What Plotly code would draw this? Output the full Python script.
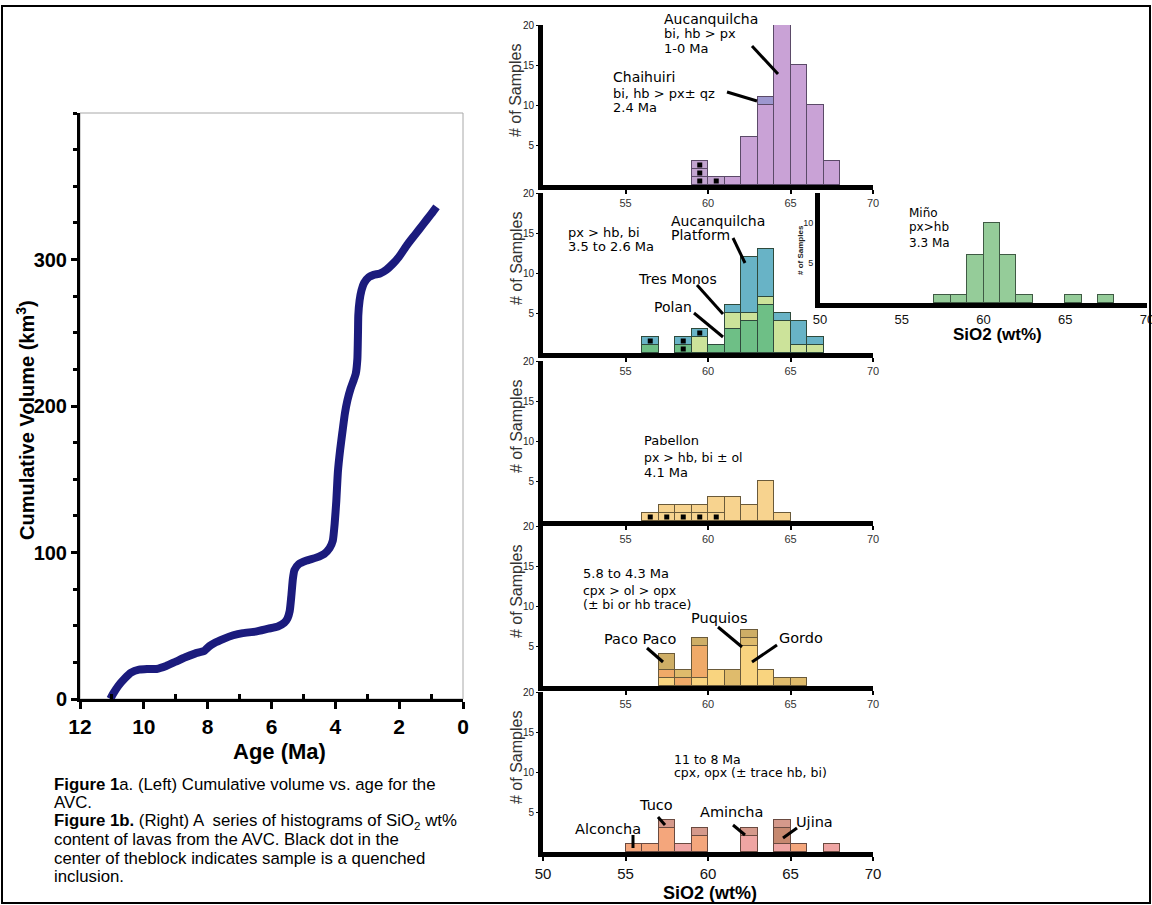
import plotly.graph_objects as go

W, H = 1152, 905

# ---------------- Figure 1a data: cumulative volume vs age ----------------
age_ma = [11.05, 10.95, 10.8, 10.6, 10.4, 10.15, 9.9, 9.6, 9.3, 9.0, 8.7, 8.4, 8.1,
          7.95, 7.8, 7.5, 7.2, 6.9, 6.5, 6.1, 5.8, 5.6, 5.5, 5.43, 5.38, 5.33, 5.28,
          5.15, 4.9, 4.6, 4.35, 4.18, 4.08, 4.02, 3.97, 3.92, 3.85, 3.78, 3.7, 3.62,
          3.52, 3.42, 3.36, 3.31, 3.29, 3.28, 3.24, 3.18, 3.1, 2.95, 2.8, 2.6, 2.4,
          2.2, 2.0, 1.75, 1.5, 1.25, 1.0, 0.83]
cum_volume = [0, 4, 9, 14, 18, 20, 20.5, 20.5, 22.5, 25.5, 28.5, 31, 33,
              36, 38, 41, 43.5, 45, 46, 48, 49.5, 52, 55, 60, 70, 82, 88,
              92, 94.5, 96.5, 99, 103, 108, 120, 135, 155, 170, 182, 195, 204,
              212, 218, 222, 232, 250, 262, 272, 279, 284, 288, 289.5, 290.5, 293,
              297, 302, 310, 317, 324, 331, 336]
age_ticks = [12, 10, 8, 6, 4, 2, 0]
vol_ticks = [0, 100, 200, 300]

# ---------------- Figure 1b data: SiO2 histograms (bin left edges, counts) ----------------
sio2_ticks = [50, 55, 60, 65, 70]
count_ticks = [5, 10, 15, 20]

p1_bins = [59, 60, 61, 62, 63, 64, 65, 66, 67]
p1_inclusions = [3, 1, 0, 0, 0, 0, 0, 0, 0]
p1_aucanquilcha = [0, 0, 1, 6, 10, 20, 15, 10, 3]
p1_chaihuiri = [0, 0, 0, 0, 1, 0, 0, 0, 0]

p2_bins = [56, 57, 58, 59, 60, 61, 62, 63, 64, 65, 66]
p2_polan = [1, 0, 0, 0, 1, 3, 4, 6, 0, 0, 0]
p2_polan_incl = [0, 0, 1, 0, 0, 0, 0, 0, 0, 0, 0]
p2_tres_monos = [0, 0, 0, 2, 0, 2, 1, 1, 4, 1, 1]
p2_platform = [0, 0, 0, 0, 0, 1, 7, 6, 1, 3, 1]
p2_platform_incl = [1, 0, 1, 1, 0, 0, 0, 0, 0, 0, 0]

mino_bins = [57, 58, 59, 60, 61, 62, 63, 64, 65, 66, 67]
mino_counts = [1, 1, 6, 10, 6, 1, 0, 0, 1, 0, 1]

p3_bins = [56, 57, 58, 59, 60, 61, 62, 63, 64]
p3_inclusions = [1, 1, 1, 1, 1, 0, 0, 0, 0]
p3_pabellon = [0, 1, 1, 1, 2, 3, 2, 5, 1]

p4_bins = [57, 58, 59, 60, 61, 62, 63, 64, 65]
p4_gordo = [1, 0, 1, 2, 0, 5, 2, 0, 0]
p4_other = [1, 1, 4, 0, 0, 0, 0, 0, 0]
p4_puquios = [0, 1, 0, 0, 2, 1, 0, 1, 1]
p4_paco_paco = [2, 0, 1, 0, 0, 1, 0, 0, 0]

p5_bins = [55, 56, 57, 58, 59, 60, 61, 62, 63, 64, 65, 66, 67]
p5_amincha = [0, 0, 0, 1, 0, 0, 0, 2, 0, 1, 0, 0, 1]
p5_tuco_alconcha = [1, 1, 3, 0, 2, 0, 0, 0, 0, 0, 1, 0, 0]
p5_ujina = [0, 0, 0, 0, 0, 0, 0, 0, 0, 2, 0, 0, 0]
p5_other = [0, 0, 1, 0, 1, 0, 0, 1, 0, 1, 0, 0, 0]


# ---------------- helpers ----------------
def fx(x):
    return x / W


def fy(y):
    return 1 - y / H


fig = go.Figure()
annotations = []
shapes = []


def text(s, x, y, size, bold=False, family="Arial", xanchor="left", color="black", angle=0):
    annotations.append(dict(
        text=f"<b>{s}</b>" if bold else s, x=fx(x), y=fy(y), xref="paper", yref="paper",
        xanchor=xanchor, yanchor="middle", showarrow=False, textangle=angle, borderpad=0,
        font=dict(size=size, family=family, color=color)))


def pointer(x0, y0, x1, y1):
    shapes.append(dict(type="line", xref="paper", yref="paper",
                       x0=fx(x0), y0=fy(y0), x1=fx(x1), y1=fy(y1),
                       line=dict(color="black", width=3)))


def add_stack(idx, bins, series, outline):
    xa, ya = f"x{idx}", f"y{idx}"
    base = [0] * len(bins)
    centers = [b + 0.5 for b in bins]
    for name, vals, color, dotted in series:
        layers = [vals] if not dotted else [
            [1 if v > k else 0 for v in vals] for k in range(max(vals))]
        for k, layer in enumerate(layers):
            fig.add_trace(go.Bar(
                x=centers, y=[v if v else None for v in layer], width=1, name=name,
                marker=dict(color=color, line=dict(color=outline, width=1)),
                xaxis=xa, yaxis=ya, showlegend=False))
            if dotted:
                dx = [c for c, v in zip(centers, layer) if v]
                dy = [b + k + 0.5 for b, v in zip(base, layer) if v]
                fig.add_trace(go.Scatter(
                    x=dx, y=dy, mode="markers", xaxis=xa, yaxis=ya, showlegend=False,
                    marker=dict(symbol="square", size=5, color="black")))
        base = [b + v for b, v in zip(base, vals)]


# ---------------- Figure 1a ----------------
fig.add_trace(go.Scatter(x=age_ma, y=cum_volume, mode="lines", xaxis="x1", yaxis="y1",
                         line=dict(color="#1b1b7d", width=8, shape="spline", smoothing=0.5),
                         showlegend=False))

layout_axes = {}
layout_axes["xaxis1"] = dict(
    domain=[fx(80), fx(463)], range=[12, 0], anchor="y1", showline=True, linecolor="black",
    linewidth=3, ticks="outside", ticklen=7, tickwidth=3, tickcolor="black", automargin=False,
    tickvals=age_ticks, showgrid=False, zeroline=False,
    tickfont=dict(family="Liberation Sans Narrow, Arial Narrow, Arial", size=21, color="black", weight="bold"),
    minor=dict(tickvals=[11, 9, 7, 5, 3, 1], ticks="inside", ticklen=5, tickwidth=3, tickcolor="black"))
layout_axes["yaxis1"] = dict(
    domain=[fy(699), fy(113)], range=[0, 400], anchor="x1", showline=True, linecolor="black",
    linewidth=3, ticks="outside", ticklen=6, tickwidth=3, tickcolor="black", automargin=False,
    tickvals=vol_ticks, showgrid=False, zeroline=False,
    tickfont=dict(family="Arial", size=20, color="black", weight="bold"),
    minor=dict(tickvals=list(range(25, 401, 25)), ticks="outside", ticklen=4, tickwidth=3, tickcolor="black"))

shapes.append(dict(type="rect", xref="paper", yref="paper", x0=fx(80), y0=fy(699), x1=fx(463), y1=fy(113),
                   line=dict(color="#a8a8a8", width=1), layer="below"))

text("Cumulative Volume (km<sup>3</sup>)", 26, 420, 20, bold=True, xanchor="center", angle=-90)
text("Age (Ma)", 279, 751, 22, bold=True, xanchor="center")

cap = 16.8
cap_y = [784, 802, 821, 839, 858, 876]
text("<b>Figure 1</b>a. (Left) Cumulative volume vs. age for the", 53, cap_y[0], cap)
text("AVC.", 53, cap_y[1], cap)
text("<b>Figure 1b.</b> (Right) A  series of histograms of SiO<sub>2</sub> wt%", 53, cap_y[2], cap)
text("content of lavas from the AVC. Black dot in the", 53, cap_y[3], cap)
text("center of theblock indicates sample is a quenched", 53, cap_y[4], cap)
text("inclusion.", 53, cap_y[5], cap)

# ---------------- Figure 1b: histogram panels ----------------
# (axis index, bottom px of y=0, top px of y=20)
panels = [(2, 185, 25), (3, 353, 193), (4, 521, 361), (5, 686, 526), (6, 852, 692)]
for idx, bottom, top in panels:
    last = idx == 6
    layout_axes[f"xaxis{idx}"] = dict(
        domain=[fx(543), fx(873)], range=[50, 70], anchor=f"y{idx}", showline=True,
        linecolor="black", linewidth=5, ticks="outside", ticklen=4, tickwidth=2,
        tickcolor="black", tickvals=sio2_ticks if last else sio2_ticks[1:],
        showgrid=False, zeroline=False, automargin=False,
        tickfont=dict(family="Arial", size=15 if last else 11, color="#111" if last else "#333"))
    layout_axes[f"yaxis{idx}"] = dict(
        domain=[fy(bottom), fy(top)], range=[0, 20], anchor=f"x{idx}", showline=True,
        linecolor="black", linewidth=5, ticks="outside", ticklen=2, tickwidth=1,
        tickcolor="black", tickvals=count_ticks, showgrid=False, zeroline=False, automargin=False,
        tickfont=dict(family="Arial", size=10, color="#222"))
    text("# of Samples", 516, (bottom + top) / 2 - 14, 16, xanchor="center", color="#333", angle=-90)

# Miño inset
layout_axes["xaxis7"] = dict(
    domain=[fx(820), fx(1147)], range=[50, 70], anchor="y7", showline=True, linecolor="black",
    linewidth=5, ticks="", tickvals=sio2_ticks, showgrid=False, zeroline=False, automargin=False,
    ticklabeloverflow="allow", tickfont=dict(family="Arial", size=13, color="#111"))
layout_axes["yaxis7"] = dict(
    domain=[fy(303), fy(193)], range=[0, 13.8], anchor="x7", showline=True, linecolor="black",
    linewidth=5, ticks="", tickvals=[5, 10], showgrid=False, zeroline=False, automargin=False,
    tickfont=dict(family="Arial", size=9, color="#222"))
text("# of Samples", 801, 250, 8, bold=True, xanchor="center", color="#222", angle=-90)
text("SiO2 (wt%)", 997, 334, 17, bold=True, xanchor="center")

add_stack(2, p1_bins, [("Quenched inclusion", p1_inclusions, "#c2a4d0", True),
                       ("Aucanquilcha", p1_aucanquilcha, "#c9a2d6", False),
                       ("Chaihuiri", p1_chaihuiri, "#9d97cf", False)], "#5b4a68")
add_stack(3, p2_bins, [("Polan", p2_polan, "#6ebf86", False),
                       ("Polan inclusion", p2_polan_incl, "#6ebf86", True),
                       ("Tres Monos", p2_tres_monos, "#cce39a", False),
                       ("Aucanquilcha Platform", p2_platform, "#68b3c6", False),
                       ("Platform inclusion", p2_platform_incl, "#68b3c6", True)], "#2f4a3c")
add_stack(7, mino_bins, [("Miño", mino_counts, "#95cc99", False)], "#3f5a44")
add_stack(4, p3_bins, [("Quenched inclusion", p3_inclusions, "#f7d38f", True),
                       ("Pabellon", p3_pabellon, "#f7d38f", False)], "#6a5a3a")
add_stack(5, p4_bins, [("Gordo", p4_gordo, "#f9d47f", False),
                       ("Other", p4_other, "#f0aa68", False),
                       ("Puquios", p4_puquios, "#dfbb6c", False),
                       ("Paco Paco", p4_paco_paco, "#ceae66", False)], "#6a5a3a")
add_stack(6, p5_bins, [("Amincha", p5_amincha, "#efa5a3", False),
                       ("Tuco / Alconcha", p5_tuco_alconcha, "#f4a67c", False),
                       ("Ujina", p5_ujina, "#c6886f", False),
                       ("Other", p5_other, "#d5998b", False)], "#6a4a40")

# labels and leader lines
F = "DejaVu Sans"
text("Aucanquilcha", 663, 19, 14, family=F)
text("bi, hb > px", 663, 34, 13, family=F)
text("1-0 Ma", 663, 48, 13, family=F)
pointer(752, 46, 778, 74)
text("Chaihuiri", 612, 77, 14, family=F)
text("bi, hb > px± qz", 612, 93, 13, family=F)
text("2.4 Ma", 612, 108, 13, family=F)
pointer(727, 92, 757, 101)

text("px > hb, bi", 567, 232, 13, family=F)
text("3.5 to 2.6 Ma", 567, 246, 13, family=F)
text("Aucanquilcha", 670, 221, 14, family=F)
text("Platform", 670, 235, 14, family=F)
pointer(733, 238, 745, 263)
text("Tres Monos", 637, 279, 14, family=F)
pointer(697, 285, 723, 314)
text("Polan", 653, 307, 14, family=F)
pointer(694, 313, 723, 337)

text("Miño", 908, 213, 12, family=F)
text("px>hb", 908, 227, 12, family=F)
text("3.3 Ma", 908, 243, 12, family=F)

text("Pabellon", 643, 440, 13, family=F)
text("px > hb, bi ± ol", 643, 457, 12.5, family=F)
text("4.1 Ma", 643, 472, 13, family=F)

text("5.8 to 4.3 Ma", 582, 573, 13, family=F)
text("cpx > ol > opx", 582, 590, 12.5, family=F)
text("(± bi or hb trace)", 582, 604, 12.5, family=F)
text("Puquios", 690, 618, 14.5, family=F)
pointer(718, 627, 742, 647)
text("Paco Paco", 603, 639, 14.5, family=F)
pointer(647, 648, 663, 662)
text("Gordo", 778, 638, 14.5, family=F)
pointer(777, 645, 752, 662)

text("11 to 8 Ma", 673, 759, 12.5, family=F)
text("cpx, opx (± trace hb, bi)", 673, 772, 12.5, family=F)
text("Tuco", 638, 805, 14.5, family=F)
pointer(658, 817, 665, 825)
text("Alconcha", 574, 829, 14.5, family=F)
pointer(633, 835, 633, 848)
text("Amincha", 699, 812, 14.5, family=F)
pointer(733, 825, 745, 835)
text("Ujina", 795, 822, 14.5, family=F)
pointer(797, 828, 783, 838)

text("SiO2 (wt%)", 710, 893, 18, bold=True, xanchor="center")

# outer frame
shapes.append(dict(type="rect", xref="paper", yref="paper", x0=fx(2), y0=fy(903), x1=fx(1150), y1=fy(6),
                   line=dict(color="black", width=2)))

fig.update_layout(
    width=W, height=H, margin=dict(l=0, r=0, t=0, b=0, autoexpand=False),
    paper_bgcolor="white", plot_bgcolor="rgba(0,0,0,0)",
    barmode="stack", bargap=0, showlegend=False,
    annotations=annotations, shapes=shapes,
    font=dict(family="Arial", color="black"),
    **layout_axes)

fig.write_html("out.html", config={"displayModeBar": False},
               post_script="document.body.style.margin='0';document.body.style.overflow='hidden';")
